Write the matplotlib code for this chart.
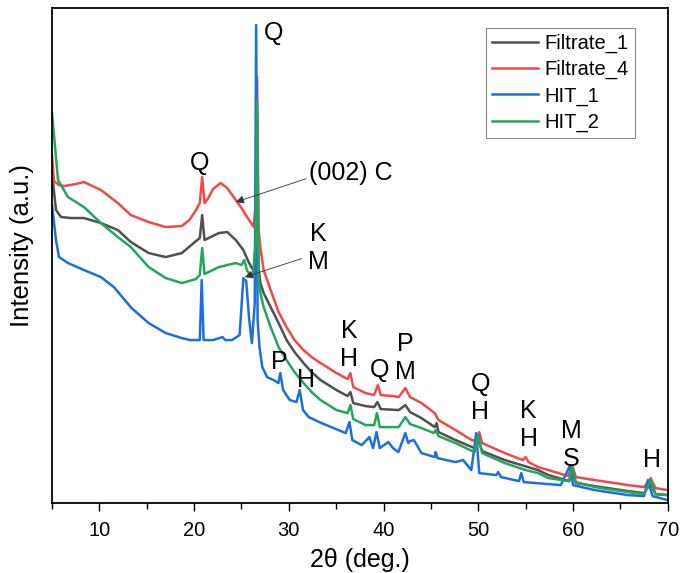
import matplotlib.pyplot as plt
from matplotlib.ticker import MultipleLocator
import numpy as np

plt.rcParams['font.family'] = ['Liberation Sans', 'DejaVu Sans']

# 2theta (deg) and intensity (a.u., arbitrary offset)
f4_x = [5.0, 5.2, 5.74, 6.3, 7.5, 8.37, 10.16, 11.95, 13.32, 15.2, 17.0, 18.7, 19.5, 20.2, 20.6, 20.85, 21.1,
        21.5, 22.0, 22.8, 23.5, 24.4, 25.0, 25.8, 26.3, 26.5, 26.65, 26.8, 27.0, 27.34, 28.08, 28.92, 29.76,
        30.6, 31.55, 32.4, 33.35, 35.03, 36.2, 36.5, 36.8, 38.1, 39.0, 39.4, 39.7, 41.0, 41.6, 42.3, 42.8, 44.0,
        45.4, 45.8, 47.6, 49.3, 49.8, 50.1, 50.4, 52.8, 54.7, 55.0, 55.3, 56.3, 57.4, 59.5, 59.9, 60.3,
        62.3, 65.8, 67.5, 68.2, 68.7, 70.0]
f4_y = [348, 322, 318, 317, 319, 321, 313, 300, 288, 281, 276, 277, 283, 293, 300, 326, 300,
        305, 314, 320, 315, 303, 295, 283, 276, 300, 426, 275, 255, 233, 213, 191, 176,
        163, 153, 146, 140, 130, 124, 130, 116, 110, 108, 118, 108, 107, 106, 115, 106, 100,
        90, 83, 73, 63, 62, 71, 60, 50, 43, 46, 41, 36, 33, 27, 38, 26,
        23, 18, 16, 25, 15, 13]

f1_x = [5.0, 5.42, 5.95, 7.0, 8.37, 10.16, 11.95, 13.32, 15.2, 17.0, 18.7, 20.2, 20.6, 20.85, 21.1,
        22.6, 23.5, 24.4, 25.2, 25.8, 26.3, 26.5, 26.65, 26.8, 27.0, 27.34, 28.08, 28.92, 29.76, 30.6,
        31.55, 32.4, 33.35, 35.03, 36.2, 36.5, 36.8, 38.1, 39.0, 39.35, 39.7, 41.6, 42.3, 42.8, 44.0,
        45.4, 45.6, 45.8, 47.6, 49.6, 50.0, 50.4, 52.8, 56.3, 57.4, 59.6, 59.9, 60.3, 62.3, 65.8, 67.5,
        68.2, 68.7, 70.0]
f1_y = [330, 293, 286, 285, 285, 280, 273, 261, 250, 246, 250, 262, 265, 288, 263,
        270, 271, 263, 253, 240, 232, 260, 390, 235, 220, 210, 196, 180, 163, 151,
        140, 131, 123, 113, 107, 111, 100, 97, 96, 101, 94, 93, 98, 91, 85,
        76, 80, 71, 63, 55, 63, 52, 43, 33, 28, 22, 32, 20, 17, 12, 10,
        20, 9, 8]

h1_x = [5.0, 5.42, 5.74, 6.69, 8.37, 10.16, 11.53, 13.4, 15.2, 17.0, 18.7, 19.6, 20.6, 20.8, 21.0, 22.0,
        23.0, 23.3, 24.0, 24.8, 25.2, 25.5, 25.8, 26.1, 26.4, 26.55, 26.7, 26.9, 27.2, 27.7, 28.4, 28.9,
        29.1, 29.4, 30.1, 30.8, 31.15, 31.5, 32.1, 33.45, 36.0, 36.4, 36.7, 37.7, 38.5, 38.9, 39.25, 39.6,
        40.5, 41.0, 41.56, 42.3, 42.6, 42.8, 43.2, 44.0, 45.4, 45.5, 45.7, 47.57, 48.4, 49.26, 49.78,
        50.1, 51.9, 52.1, 52.4, 54.3, 54.53, 54.8, 58.7, 59.7, 60.0, 62.3, 65.8, 67.5, 67.9, 68.4, 70.0]
h1_y = [298, 263, 246, 240, 233, 226, 216, 195, 180, 170, 165, 163, 163, 223, 163, 163,
        166, 163, 163, 168, 225, 222, 185, 160, 200, 478, 183, 156, 136, 126, 123, 120,
        130, 113, 103, 101, 113, 93, 86, 80, 70, 81, 63, 58, 66, 55, 71, 55,
        61, 55, 51, 70, 60, 62, 63, 50, 46, 51, 45, 41, 43, 33, 70,
        30, 28, 31, 26, 22, 30, 21, 18, 38, 18, 13, 8, 7, 23, 7, 3]

h2_x = [5.0, 5.63, 6.69, 8.37, 10.16, 11.95, 13.32, 15.2, 17.0, 18.7, 20.2, 20.6, 20.85, 21.1, 22.6,
        24.4, 25.0, 25.3, 25.6, 26.2, 26.5, 26.65, 26.8, 27.0, 27.34, 28.08, 28.92, 29.76, 30.6, 31.55,
        32.4, 33.35, 35.03, 36.2, 36.5, 36.8, 38.1, 39.0, 39.3, 39.6, 41.6, 42.3, 42.8, 44.0, 45.3,
        45.5, 45.8, 47.6, 49.6, 50.0, 50.4, 52.8, 55.0, 56.3, 57.4, 59.6, 59.9, 60.3, 62.3, 65.8, 67.5,
        68.2, 68.7, 70.0]
h2_y = [390, 323, 306, 296, 280, 266, 256, 236, 225, 220, 224, 228, 255, 229, 236,
        240, 238, 243, 232, 226, 260, 403, 225, 210, 196, 176, 156, 143, 131, 120,
        111, 103, 93, 90, 98, 84, 78, 78, 90, 76, 76, 86, 79, 75, 70,
        73, 67, 60, 51, 68, 50, 40, 33, 30, 25, 22, 36, 21, 16, 11, 9,
        23, 9, 8]

series = [("Filtrate_1", f1_x, f1_y, "#505050"),
          ("Filtrate_4", f4_x, f4_y, "#f24848"),
          ("HIT_1", h1_x, h1_y, "#1c6fe3"),
          ("HIT_2", h2_x, h2_y, "#25a55b")]

# phase labels: text, 2theta, intensity
labels = [("Q", 28.4, 470), ("Q", 20.6, 340), ("P", 29.0, 141), ("H", 31.8, 123),
          ("K\nH", 36.4, 158), ("Q", 39.6, 133), ("P\nM", 42.3, 145), ("Q\nH", 50.2, 105),
          ("K\nH", 55.3, 78), ("M\nS", 59.8, 58), ("H", 68.3, 43)]

fig = plt.figure(figsize=(6.8, 5.73), dpi=100)
ax = fig.add_axes([0.0765, 0.122, 0.9055, 0.864])

for name, x, y, c in series:
    ax.plot(x, y, color=c, lw=1.8, label=name)

for txt, x, y in labels:
    ax.text(x, y, txt, ha="center", va="center", fontsize=18, linespacing=1.25)

ax.annotate("(002) C", xy=(24.4, 301), xytext=(32.1, 330), fontsize=18, va="center", ha="left",
            arrowprops=dict(arrowstyle="-|>", lw=0.6, color="#333333", mutation_scale=12,
                            shrinkA=0, shrinkB=0, relpos=(0, 0.3)))
ax.annotate("K\nM", xy=(25.35, 226), xytext=(33.1, 255), fontsize=18, va="center", ha="center",
            linespacing=1.25,
            arrowprops=dict(arrowstyle="-|>", lw=0.6, color="#333333", mutation_scale=12,
                            shrinkA=0, shrinkB=0, relpos=(-0.3, 0.3)))

ax.set_xlim(5, 70)
ax.set_ylim(0, 495)
ax.xaxis.set_major_locator(MultipleLocator(10))
ax.xaxis.set_minor_locator(MultipleLocator(5))
ax.tick_params(axis="x", which="major", length=6, width=1, labelsize=14.5, pad=7)
ax.tick_params(axis="x", which="minor", length=4, width=1)
ax.set_yticks([])
for s in ax.spines.values():
    s.set_linewidth(1.3)

ax.set_xlabel("2θ (deg.)", fontsize=18, labelpad=6)
ax.set_ylabel("Intensity (a.u.)", fontsize=18.5)
ax.yaxis.set_label_coords(-0.03, 0.52)

leg = ax.legend(loc="upper right", bbox_to_anchor=(0.946, 0.96), borderaxespad=0, fontsize=14.5,
                handlelength=2.3, labelspacing=0.35, borderpad=0.3, handletextpad=0.3,
                fancybox=False, framealpha=1)
leg.get_frame().set_edgecolor("#888888")
leg.get_frame().set_linewidth(0.8)

fig.savefig("out.png", dpi=100)
